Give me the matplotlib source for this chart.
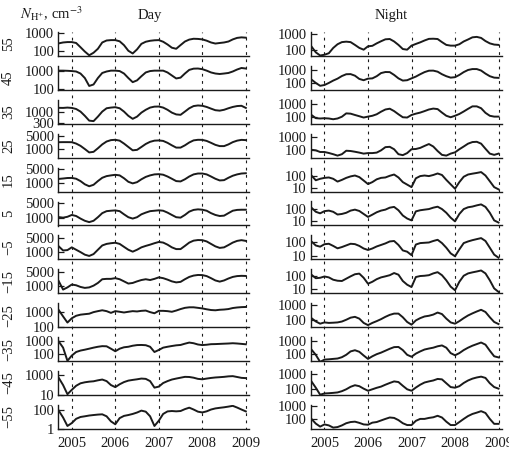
import numpy as np
import matplotlib
matplotlib.use("Agg")
import matplotlib.pyplot as plt
from matplotlib.ticker import FixedLocator, FixedFormatter, NullLocator

plt.rcParams['font.family'] = ['Liberation Serif', 'DejaVu Serif']
plt.rcParams['mathtext.fontset'] = 'stix'

# ---------------- data ----------------
years = [2004.7, 2004.8, 2004.9, 2005.0, 2005.1, 2005.2, 2005.3, 2005.4, 2005.5, 2005.6,
         2005.7, 2005.8, 2005.9, 2006.0, 2006.1, 2006.2, 2006.3, 2006.4, 2006.5, 2006.6,
         2006.7, 2006.8, 2006.9, 2007.0, 2007.1, 2007.2, 2007.3, 2007.4, 2007.5, 2007.6,
         2007.7, 2007.8, 2007.9, 2008.0, 2008.1, 2008.2, 2008.3, 2008.4, 2008.5, 2008.6,
         2008.7, 2008.8, 2008.9, 2009.0]

latitudes = ['55', '45', '35', '25', '15', '5', '\u22125', '\u221215', '\u221225', '\u221235', '\u221245', '\u221255']
year_ticks = [2005, 2006, 2007, 2008, 2009]

day_55 = [266, 300, 316, 316, 280, 160, 90, 55, 77, 130, 300, 390, 410, 410, 350, 210, 100, 70, 120, 250,
          330, 375, 400, 410, 330, 230, 150, 130, 212, 340, 440, 490, 480, 450, 380, 300, 260, 280, 300, 340,
          450, 550, 590, 565]
day_45 = [1000, 1000, 980, 950, 900, 700, 400, 150, 180, 400, 750, 900, 1000, 1000, 950, 700, 400, 240, 300, 500,
          800, 950, 1000, 1000, 1000, 800, 550, 380, 420, 700, 1100, 1280, 1300, 1200, 1000, 800, 700, 660, 700, 750,
          900, 1150, 1390, 1300]
day_35 = [1460, 1450, 1500, 1450, 1300, 1000, 650, 400, 380, 600, 1000, 1400, 1500, 1560, 1400, 1000, 650, 480, 600, 900,
          1200, 1500, 1650, 1670, 1500, 1200, 900, 750, 720, 1000, 1400, 1750, 1860, 1800, 1600, 1350, 1150, 1100, 1200, 1400,
          1600, 1750, 1800, 1450]
day_25 = [2380, 2400, 2400, 2380, 2000, 1500, 1000, 650, 700, 1100, 1800, 2600, 3100, 3230, 2900, 2000, 1300, 850, 900, 1300,
          1900, 2500, 2900, 2980, 2800, 2200, 1600, 1200, 1200, 1600, 2300, 3000, 3230, 3200, 2800, 2200, 1700, 1450, 1450, 1800,
          2400, 2900, 3200, 3100]
day_15 = [1670, 1750, 1850, 1870, 1700, 1300, 900, 720, 850, 1300, 1900, 2300, 2500, 2670, 2500, 1800, 1200, 1000, 1150, 1600,
          2100, 2500, 2800, 2880, 2700, 2200, 1700, 1300, 1250, 1600, 2200, 2800, 3100, 3100, 2800, 2200, 1700, 1400, 1450, 1900,
          2400, 2800, 3100, 3200]
day_5 = [1110, 1050, 1150, 1400, 1250, 950, 750, 650, 750, 1100, 1700, 2100, 2200, 2280, 2100, 1500, 1100, 950, 1100, 1500,
         1800, 2100, 2200, 2300, 2200, 1800, 1400, 1100, 1050, 1400, 2000, 2400, 2550, 2450, 2200, 1700, 1400, 1250, 1300, 1700,
         2200, 2400, 2450, 2450]
day_m5 = [1900, 1200, 1250, 1700, 1300, 1000, 750, 650, 800, 1300, 2100, 2500, 2700, 2850, 2500, 1800, 1300, 1050, 1300, 1700,
          2000, 2300, 2700, 3100, 2900, 2300, 1700, 1400, 1400, 2000, 2900, 3600, 3850, 3800, 3300, 2500, 1900, 1600, 1700, 2200,
          2900, 3500, 3800, 3500]
day_m15 = [1840, 700, 900, 1250, 1150, 950, 850, 900, 1100, 1500, 2300, 2400, 2400, 2600, 2300, 1800, 1400, 1500, 1800, 2100,
           2300, 2100, 2400, 2850, 2600, 2200, 1800, 1600, 1700, 2300, 3000, 3500, 3750, 3700, 3300, 2600, 2000, 1750, 2000, 2500,
           3000, 3300, 3400, 3350]
day_m25 = [1290, 500, 200, 380, 550, 650, 700, 750, 950, 1100, 1250, 1100, 850, 1100, 1000, 900, 1000, 1100, 1050, 1150,
           1200, 950, 800, 1150, 1150, 1100, 1000, 1200, 1500, 1800, 1950, 1950, 1800, 1650, 1450, 1300, 1250, 1350, 1400, 1500,
           1750, 1900, 2000, 2050]
day_m35 = [880, 300, 30, 75, 140, 180, 210, 250, 300, 350, 390, 380, 250, 160, 250, 320, 350, 420, 470, 480,
           460, 350, 140, 200, 300, 350, 400, 450, 480, 600, 730, 650, 520, 470, 500, 550, 560, 580, 600, 620,
           650, 620, 580, 540]
day_m45 = [530, 100, 12, 33, 85, 150, 190, 220, 240, 300, 360, 250, 100, 62, 120, 200, 280, 330, 380, 450,
           420, 250, 55, 70, 160, 250, 360, 450, 550, 670, 650, 550, 420, 380, 450, 520, 580, 620, 670, 750,
           790, 650, 530, 500]
day_m55 = [77, 15, 2, 4, 11, 17, 20, 24, 27, 30, 32, 20, 6, 3, 13, 22, 27, 35, 49, 77,
           60, 20, 2, 7, 35, 64, 70, 65, 70, 110, 155, 100, 60, 50, 65, 100, 130, 150, 170, 200,
           240, 160, 100, 64]

night_55 = [160, 68, 43, 48, 60, 128, 220, 300, 320, 300, 200, 130, 100, 163, 175, 250, 340, 450, 470, 330,
            200, 110, 100, 180, 230, 290, 380, 480, 490, 470, 300, 200, 180, 180, 220, 330, 440, 600, 640, 550,
            350, 250, 210, 200]
night_45 = [180, 100, 61, 70, 100, 150, 210, 330, 450, 460, 350, 200, 160, 210, 220, 320, 550, 660, 650, 400,
            220, 150, 160, 220, 300, 450, 650, 830, 840, 700, 450, 320, 250, 270, 400, 650, 940, 1100, 1100, 850,
            500, 320, 250, 240]
night_35 = [150, 85, 80, 84, 80, 70, 80, 110, 200, 190, 150, 120, 95, 112, 130, 170, 270, 400, 460, 300,
            170, 100, 95, 150, 190, 230, 300, 400, 470, 430, 230, 130, 100, 130, 180, 280, 450, 700, 700, 500,
            220, 130, 112, 112]
night_25 = [100, 90, 67, 67, 56, 45, 35, 45, 84, 80, 70, 60, 50, 55, 55, 60, 90, 160, 170, 110,
            45, 38, 55, 110, 115, 140, 200, 280, 180, 80, 40, 35, 50, 63, 110, 180, 300, 400, 420, 300,
            120, 50, 40, 50]
night_15 = [100, 42, 55, 65, 70, 55, 33, 45, 65, 85, 100, 75, 40, 21, 30, 50, 65, 70, 95, 120,
            70, 30, 19, 12, 60, 90, 100, 90, 110, 145, 110, 45, 20, 9, 30, 80, 120, 140, 160, 187,
            100, 35, 12, 8]
night_5 = [130, 60, 45, 68, 75, 60, 36, 40, 50, 75, 90, 70, 40, 23, 35, 55, 75, 90, 130, 150,
           80, 30, 17, 12, 65, 80, 90, 100, 130, 156, 100, 50, 20, 10, 40, 100, 140, 160, 200, 240,
           150, 50, 12, 8]
night_m5 = [120, 59, 48, 74, 80, 55, 36, 45, 60, 80, 75, 55, 35, 27, 35, 50, 65, 85, 120, 130,
            65, 25, 20, 11, 70, 90, 95, 100, 130, 160, 90, 40, 15, 9, 30, 90, 120, 150, 180, 215,
            130, 40, 12, 7]
night_m15 = [120, 65, 70, 88, 75, 50, 42, 40, 60, 90, 130, 145, 70, 25, 35, 55, 75, 90, 110, 160,
             120, 40, 21, 14, 80, 95, 100, 110, 150, 186, 110, 45, 15, 8, 35, 100, 150, 180, 210, 250,
             150, 45, 11, 6]
night_m25 = [130, 76, 53, 65, 60, 62, 65, 75, 100, 140, 160, 120, 60, 42, 60, 80, 110, 160, 220, 270,
             270, 150, 70, 45, 90, 130, 170, 190, 230, 320, 250, 120, 65, 53, 80, 130, 200, 280, 380, 500,
             350, 150, 70, 50]
night_m35 = [220, 89, 27, 40, 42, 45, 48, 60, 90, 160, 195, 150, 80, 45, 70, 100, 130, 180, 250, 330,
             340, 200, 90, 65, 110, 160, 220, 260, 300, 380, 440, 300, 120, 83, 120, 200, 300, 420, 550, 720,
             500, 180, 70, 58]
night_m45 = [330, 127, 44, 53, 55, 58, 62, 75, 100, 146, 185, 160, 110, 80, 100, 125, 150, 200, 260, 330,
             300, 170, 100, 80, 130, 200, 280, 330, 380, 480, 450, 250, 140, 127, 160, 260, 380, 500, 600, 680,
             560, 250, 140, 110]
night_m55 = [100, 42, 24, 36, 30, 20, 22, 30, 45, 56, 60, 48, 36, 34, 50, 56, 75, 100, 130, 120,
             80, 45, 32, 32, 70, 100, 100, 120, 135, 178, 130, 60, 32, 32, 56, 100, 170, 250, 320, 420,
             300, 100, 40, 40]

day_series = [day_55, day_45, day_35, day_25, day_15, day_5, day_m5, day_m15, day_m25, day_m35, day_m45, day_m55]
night_series = [night_55, night_45, night_35, night_25, night_15, night_5, night_m5, night_m15,
                night_m25, night_m35, night_m45, night_m55]

day_ticks = [[100, 1000], [100, 1000], [300, 1000], [1000, 5000], [1000, 5000], [1000, 5000],
             [1000, 5000], [1000, 5000], [100, 1000], [100, 1000], [10, 1000], [1, 100]]
night_ticks = [[100, 1000], [100, 1000], [100, 1000], [100, 1000], [10, 100], [10, 100],
               [10, 100], [10, 100], [100, 1000], [100, 1000], [100, 1000], [100, 1000]]

day_ylim = [(50, 1200), (92, 1800), (290, 3300), (333, 7000), (390, 6100), (453, 5900),
            (442, 6470), (457, 7200), (100, 3600), (28.5, 1900), (10, 2600), (1, 300)]
night_ylim = [(40, 1300), (30, 1900), (31, 2260), (24, 1800), (5.3, 424), (4.6, 413),
              (5.2, 345), (4.7, 307), (30, 1450), (31, 1800), (42, 1600), (15.7, 1340)]

# ---------------- layout ----------------
W, H = 509, 454
fig = plt.figure(figsize=(W / 100, H / 100), dpi=100)

xlim = (2004.69, 2009.08)
col_left = [58.3, 311.0]
ax_w = 191.0
ax_h = 24.0
row_pitch = 33.9
first_bottom = 56.0


def fig_rect(left_px, bottom_px, w_px, h_px):
    return [left_px / W, 1 - bottom_px / H, w_px / W, h_px / H]


for c, (series, ticks, ylims) in enumerate([(day_series, day_ticks, day_ylim),
                                             (night_series, night_ticks, night_ylim)]):
    for i in range(12):
        b = first_bottom + row_pitch * i
        ax = fig.add_axes(fig_rect(col_left[c], b, ax_w, ax_h))
        ax.patch.set_alpha(0)
        ax.plot(years, series[i], color='#1a1a1a', lw=1.4, solid_joinstyle='round')
        ax.set_yscale('log')
        ax.set_ylim(*ylims[i])
        ax.set_xlim(*xlim)
        ax.yaxis.set_major_locator(FixedLocator(ticks[i]))
        ax.yaxis.set_major_formatter(FixedFormatter([str(v) for v in ticks[i]]))
        ax.yaxis.set_minor_locator(NullLocator())
        ax.tick_params(axis='y', direction='in', length=4, width=0.9, pad=3,
                       labelsize=10.5, colors='#1a1a1a')
        ax.set_xticks(year_ticks)
        ax.tick_params(axis='x', length=0, pad=6, labelsize=10.5, colors='#1a1a1a')
        if i < 11:
            ax.set_xticklabels([])
        else:
            ax.set_xticklabels([str(y) for y in year_ticks])
        for s in ['top', 'right']:
            ax.spines[s].set_visible(False)
        for s in ['left', 'bottom']:
            ax.spines[s].set_linewidth(1.0)
            ax.spines[s].set_color('#1a1a1a')
        if c == 0:
            fig.text(8.5 / W, 1 - (b - ax_h / 2) / H, latitudes[i], rotation=90,
                     ha='center', va='center', fontsize=10.5, color='#1a1a1a')

    # dashed year lines spanning the whole column
    ov = fig.add_axes(fig_rect(col_left[c], first_bottom + row_pitch * 11 + 1, ax_w,
                               row_pitch * 11 + ax_h + 1))
    ov.set_xlim(*xlim)
    ov.set_ylim(0, 1)
    ov.axis('off')
    for yv in year_ticks:
        ov.axvline(yv, color='#1a1a1a', lw=0.8, linestyle=(0, (2.5, 4)))

fig.text(20 / W, 1 - 14 / H, r'$N_{\mathrm{H}^{+}}$, cm$^{-3}$', ha='left', va='center',
         fontsize=10.5, color='#1a1a1a')
fig.text(150 / W, 1 - 15 / H, 'Day', ha='center', va='center', fontsize=10.5, color='#1a1a1a')
fig.text(391 / W, 1 - 15 / H, 'Night', ha='center', va='center', fontsize=10.5, color='#1a1a1a')

fig.savefig('out.png', dpi=100)
